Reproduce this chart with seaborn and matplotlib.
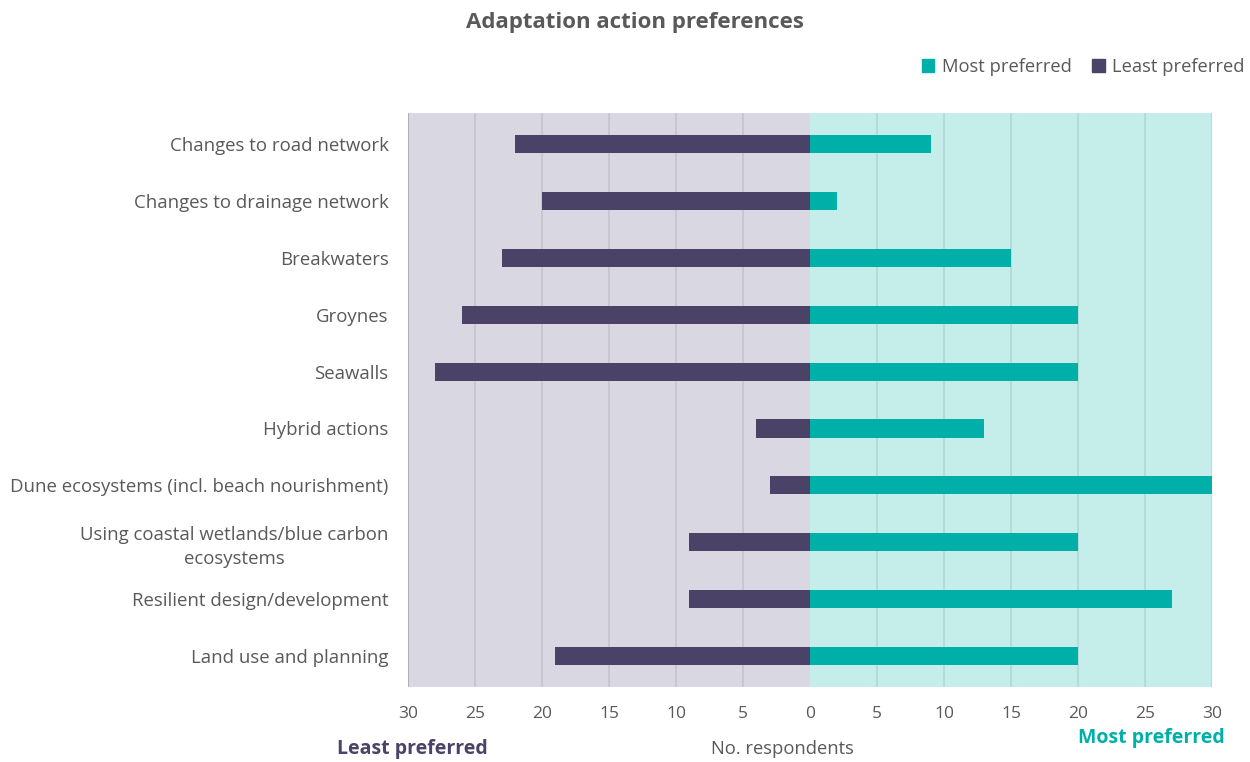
import pandas as pd
import matplotlib.pyplot as plt
import seaborn as sns
from matplotlib.patches import Patch
from matplotlib.ticker import FuncFormatter

# Dados do gráfico
actions = ['Changes to road network', 'Changes to drainage network', 'Breakwaters',
           'Groynes', 'Seawalls', 'Hybrid actions',
           'Dune ecosystems (incl. beach nourishment)',
           'Using coastal wetlands/blue carbon\necosystems',
           'Resilient design/development', 'Land use and planning']
most_preferred = [9, 2, 15, 20, 20, 13, 30, 20, 27, 20]
least_preferred = [22, 20, 23, 26, 28, 4, 3, 9, 9, 19]
x_ticks = [-30, -25, -20, -15, -10, -5, 0, 5, 10, 15, 20, 25, 30]

c_most = '#00b0a8'
c_least = '#4b4268'
c_text = '#595959'

df = pd.concat([
    pd.DataFrame({'action': actions, 'value': [-v for v in least_preferred], 'series': 'Least preferred'}),
    pd.DataFrame({'action': actions, 'value': most_preferred, 'series': 'Most preferred'}),
])

sns.set_style('white')
plt.rcParams['font.family'] = ['Open Sans', 'DejaVu Sans']

fig = plt.figure(figsize=(12.5, 7.62), dpi=100)
ax = fig.add_axes([0.3264, 0.0984, 0.6432, 0.7533])

# fundo das duas metades
ax.axvspan(-30, 0, color='#d9d7e1', zorder=0, lw=0)
ax.axvspan(0, 30, color='#c5ede9', zorder=0, lw=0)
for t in x_ticks:
    if t in (-30, 0):
        continue
    col = '#c4c2cc' if t < 0 else '#acd9d5'
    ax.axvline(t, color=col, lw=1.1, zorder=0.5)
ax.axvline(-30, color='#b0aeb8', lw=1.5, zorder=0.5)

sns.barplot(data=df, x='value', y='action', hue='series', dodge=False, orient='h',
            palette={'Least preferred': c_least, 'Most preferred': c_most},
            saturation=1, linewidth=0, width=0.32, legend=False, ax=ax, zorder=2)

ax.set_xlim(-30, 30)
ax.set_ylim(9.55, -0.55)
ax.set_xticks(x_ticks)
ax.xaxis.set_major_formatter(FuncFormatter(lambda v, p: f'{abs(int(v))}'))
ax.tick_params(axis='x', labelsize=12.5, colors=c_text, length=0, pad=14)
ax.tick_params(axis='y', labelsize=13.4, colors=c_text, length=0, pad=14)
for lbl in ax.get_yticklabels():
    lbl.set_multialignment('center')
    lbl.set_linespacing(1.45)
ax.set_xlabel('')
ax.set_ylabel('')
for s in ax.spines.values():
    s.set_visible(False)

fig.text(0.508, 0.97, 'Adaptation action preferences', ha='center', va='center',
         fontsize=16, fontweight='bold', color=c_text)
fig.text(0.626, 0.017, 'No. respondents', ha='center', va='center', fontsize=13.2, color=c_text)
fig.text(0.330, 0.017, 'Least preferred', ha='center', va='center', fontsize=14,
         fontweight='bold', color=c_least)
fig.text(0.921, 0.032, 'Most preferred', ha='center', va='center', fontsize=14,
         fontweight='bold', color=c_most)

handles = [Patch(color=c_most, label='Most preferred'), Patch(color=c_least, label='Least preferred')]
fig.legend(handles=handles, loc='center right', bbox_to_anchor=(0.997, 0.912), ncol=2,
           frameon=False, fontsize=13.2, labelcolor=c_text, handlelength=0.7,
           handleheight=0.7, handletextpad=0.4, columnspacing=1.1, borderaxespad=0,
           borderpad=0.1)

plt.savefig('out.png', dpi=100)
